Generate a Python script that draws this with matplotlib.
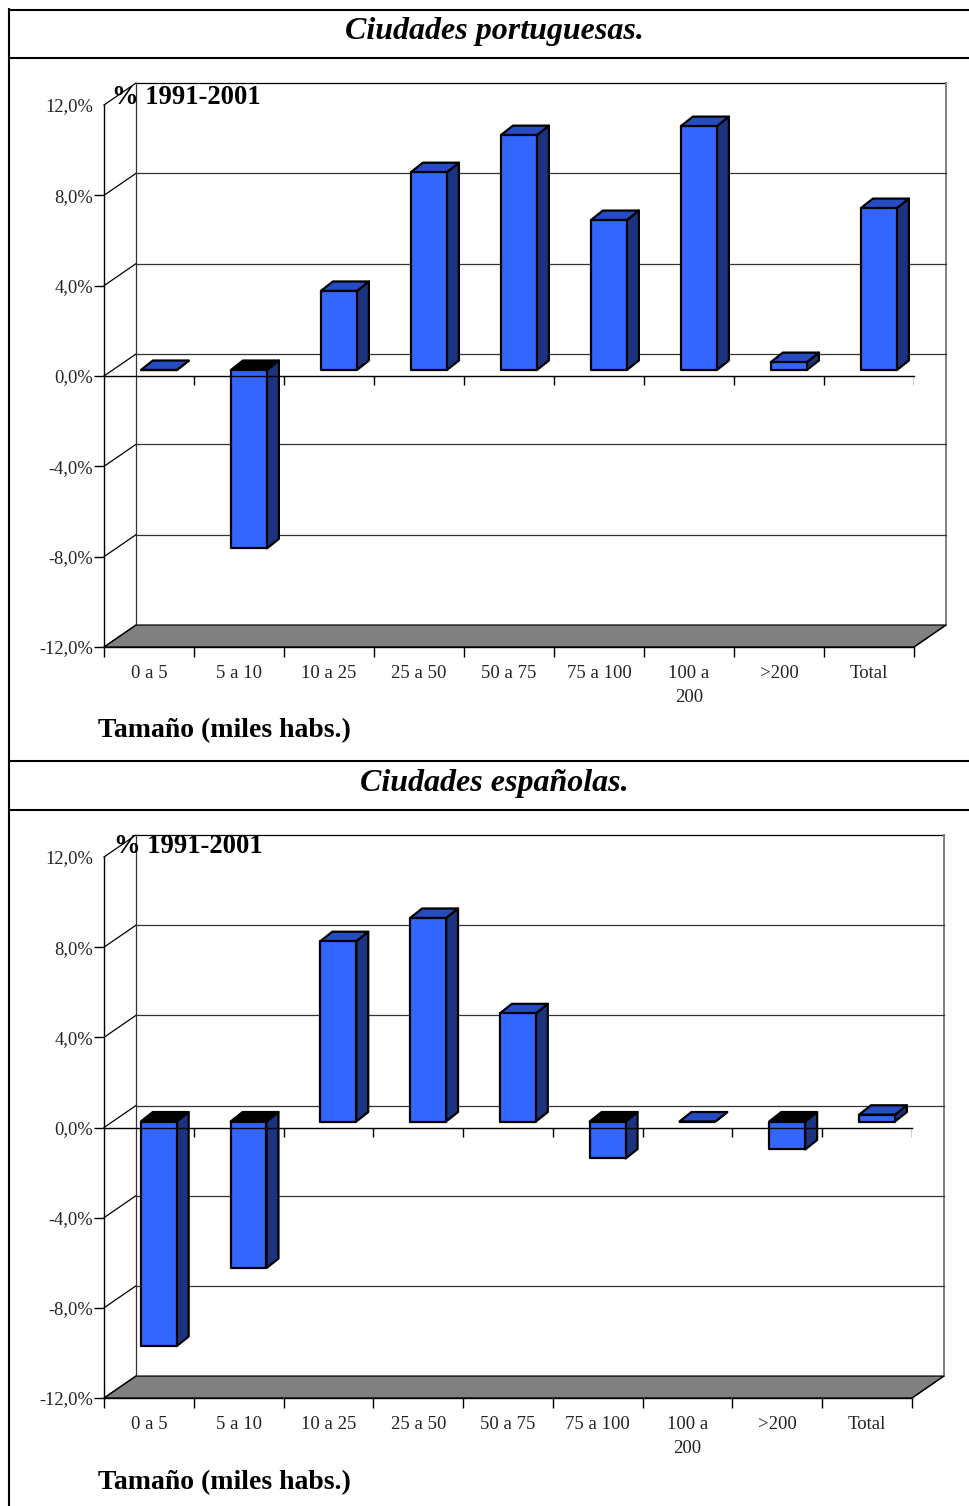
import matplotlib
matplotlib.use("Agg")
import matplotlib.pyplot as plt
from matplotlib.lines import Line2D
from matplotlib.patches import Polygon

plt.rcParams['font.family'] = ['Liberation Serif', 'DejaVu Serif']

W, H = 970, 1506

categorias = ['0 a 5', '5 a 10', '10 a 25', '25 a 50', '50 a 75', '75 a 100',
              '100 a\n200', '>200', 'Total']
portugal = [0.0, -7.9, 3.5, 8.76, 10.4, 6.64, 10.8, 0.35, 7.17]
espana = [-9.96, -6.5, 8.0, 9.03, 4.8, -1.64, 0.0, -1.24, 0.3]
yticks = [-12, -8, -4, 0, 4, 8, 12]
ylabels = ['-12,0%', '-8,0%', '-4,0%', '0,0%', '4,0%', '8,0%', '12,0%']

FRONT = '#3366FF'
TOP = '#264CC4'
SIDE = '#1C3380'
DEPTH_X = 32 / 90   # back wall offset, in data units
DEPTH_Y = 22 / 22.6
BAR_X = 12 / 90     # depth of one bar
BAR_Y = 9.5 / 22.6
BASE = 6 / 22.6     # bars stand a bit behind the front plane
WIDTH = 0.40


def fx(x):
    return x / W


def fy(y):
    return 1 - y / H


def panel(left, right, top, bottom, valores, titulo, title_y, pct_x, pct_y, label_y):
    ax = fig.add_axes([fx(left), fy(bottom), fx(right - left), (bottom - top) / H])
    ax.set_xlim(0, 9)
    ax.set_ylim(-12, 12)
    ax.patch.set_alpha(0)
    for s in ['top', 'right']:
        ax.spines[s].set_visible(False)
    for s in ['left', 'bottom']:
        ax.spines[s].set_linewidth(1.0)

    ax.set_yticks(yticks)
    ax.set_yticklabels(ylabels, fontsize=13.3, color='#222222')
    ax.tick_params(axis='y', length=7, width=1.0, pad=1.0)
    ax.yaxis.get_major_ticks()[-1].tick1line.set_visible(False)
    ax.set_xticks(range(10))
    ax.set_xticklabels([])
    ax.tick_params(axis='x', which='major', length=7, width=1.0)
    ax.set_xticks([i + 0.5 for i in range(9)], minor=True)
    ax.set_xticklabels(categorias, minor=True, fontsize=13.5, color='#222222',
                       linespacing=1.55)
    ax.tick_params(axis='x', which='minor', length=0, pad=13)

    # floor and back wall
    ax.add_patch(Polygon([(0, -12), (9, -12), (9 + DEPTH_X, -12 + DEPTH_Y), (DEPTH_X, -12 + DEPTH_Y)],
                         fc='#808080', ec='black', lw=0.9, clip_on=False, zorder=1))
    ax.plot([DEPTH_X, DEPTH_X], [-12 + DEPTH_Y, 12 + DEPTH_Y], color='#333333', lw=0.9, clip_on=False, zorder=1)
    ax.plot([DEPTH_X, 9 + DEPTH_X], [12 + DEPTH_Y, 12 + DEPTH_Y], color='black', lw=0.9, clip_on=False, zorder=1)
    ax.plot([9 + DEPTH_X, 9 + DEPTH_X], [-12 + DEPTH_Y, 12 + DEPTH_Y], color='#808080', lw=1.4, clip_on=False, zorder=1)
    ax.plot([9, 9 + DEPTH_X], [-12, -12 + DEPTH_Y], color='black', lw=0.9, clip_on=False, zorder=1)
    for v in yticks:
        ax.plot([0, DEPTH_X], [v, v + DEPTH_Y], color='black', lw=0.9, clip_on=False, zorder=1)
        if abs(v) < 12:
            ax.plot([DEPTH_X, 9 + DEPTH_X], [v + DEPTH_Y, v + DEPTH_Y], color='#333333', lw=0.9,
                    clip_on=False, zorder=1)

    for i, v in enumerate(valores):
        x0 = i + 0.41
        x1 = x0 + WIDTH
        y_low = BASE + min(v, 0)
        y_high = BASE + max(v, 0)
        face_top = 'black' if v < 0 else TOP
        kw = dict(ec='black', lw=1.6, joinstyle='round', clip_on=False, zorder=3)
        ax.add_patch(Polygon([(x1, y_low), (x1 + BAR_X, y_low + BAR_Y), (x1 + BAR_X, y_high + BAR_Y), (x1, y_high)],
                             fc=SIDE, **kw))
        ax.add_patch(Polygon([(x0, y_high), (x1, y_high), (x1 + BAR_X, y_high + BAR_Y), (x0 + BAR_X, y_high + BAR_Y)],
                             fc=face_top, **kw))
        ax.add_patch(Polygon([(x0, y_low), (x1, y_low), (x1, y_high), (x0, y_high)], fc=FRONT, **kw))

    # zero axis goes over the bars
    ax.plot([0, 9], [0, 0], color='black', lw=1.0, zorder=4, clip_on=False)
    ax.vlines(range(1, 10), -0.42, 0, color='black', lw=1.0, zorder=4)

    fig.text(fx(494), fy(title_y), titulo, fontsize=23, fontstyle='italic', fontweight='bold',
             ha='center', va='center')
    fig.text(fx(pct_x), fy(pct_y), '% 1991-2001', fontsize=19.2, fontweight='bold',
             ha='left', va='center', zorder=10)
    fig.text(fx(98), fy(label_y), 'Tamaño (miles habs.)', fontsize=20, fontweight='bold',
             ha='left', va='center')


fig = plt.figure(figsize=(W / 100, H / 100), dpi=100, facecolor='white')

panel(104, 914, 105, 647, portugal, 'Ciudades portuguesas.', 32, 112, 97, 731)
panel(104, 912, 857, 1398, espana, 'Ciudades españolas.', 784, 114, 847, 1483)

# table borders
for y in [9.5, 58, 761, 810]:
    fig.add_artist(Line2D([fx(9), 1], [fy(y), fy(y)], color='black', lw=1.5))
fig.add_artist(Line2D([fx(9), fx(9)], [fy(9), 0], color='black', lw=1.5))

fig.savefig('out.png', dpi=100)
